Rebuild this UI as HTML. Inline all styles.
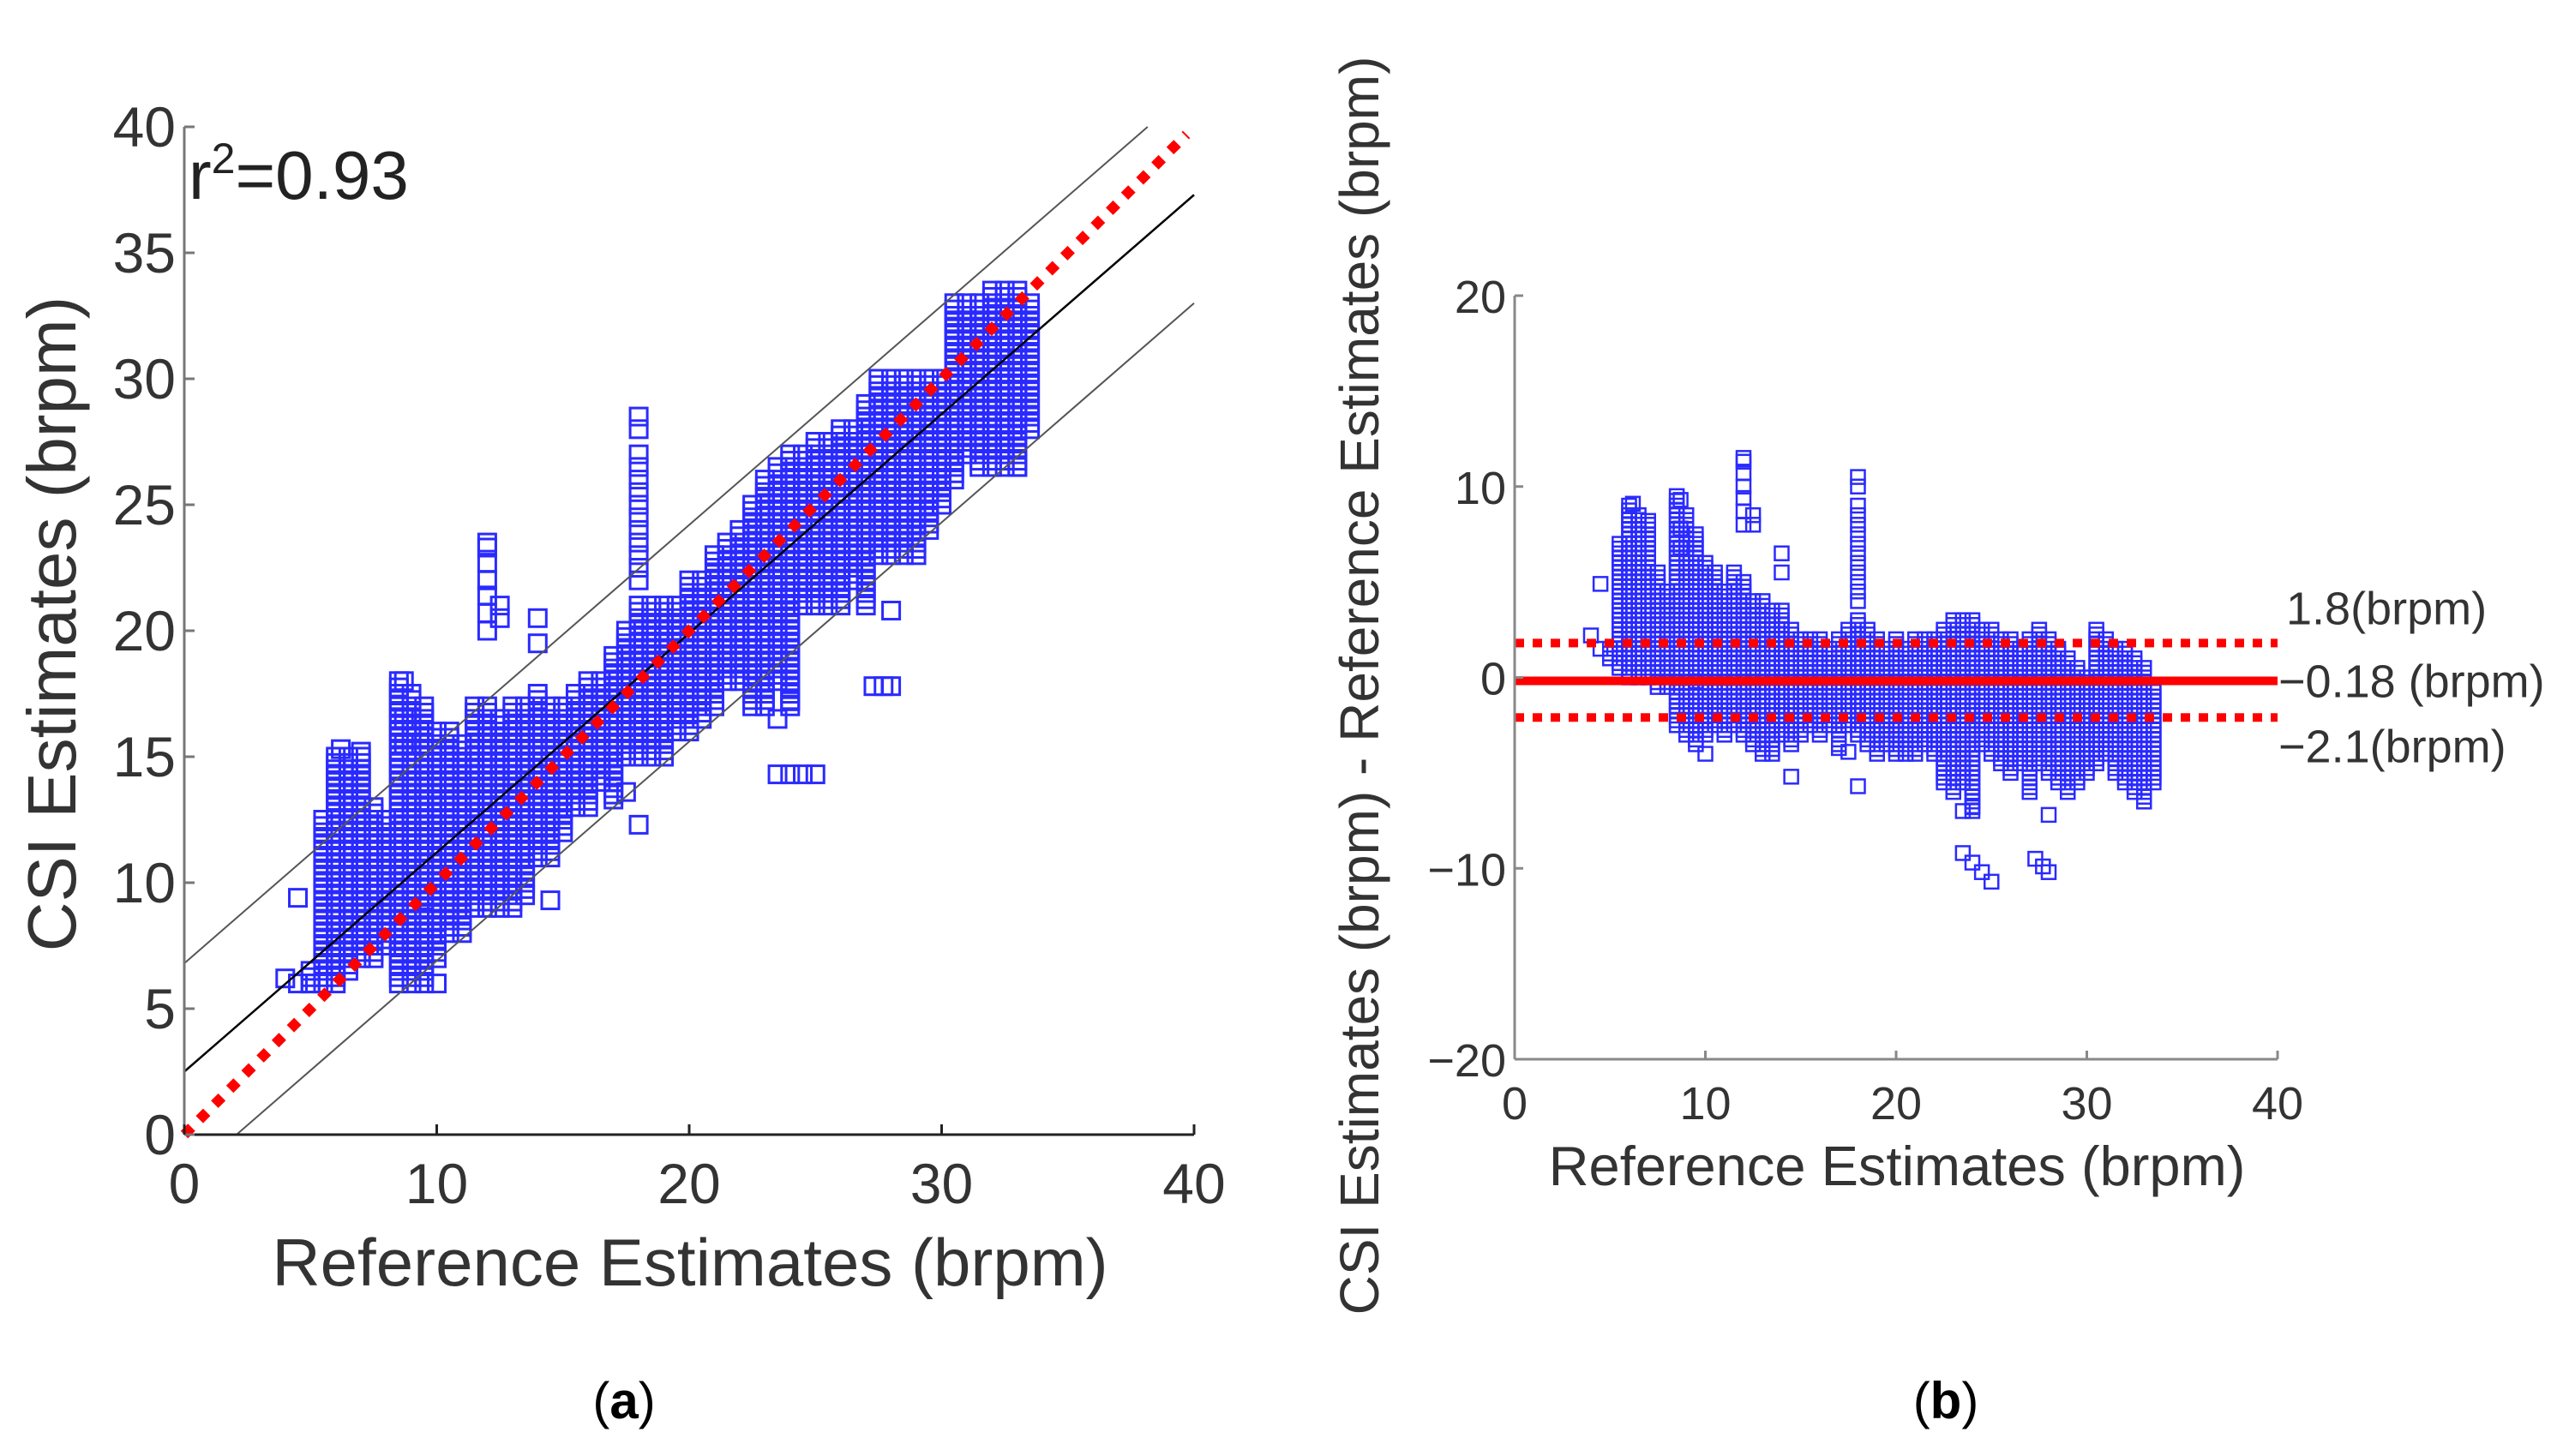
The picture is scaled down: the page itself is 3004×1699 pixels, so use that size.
<!DOCTYPE html>
<html><head><meta charset="utf-8"><style>
html,body{margin:0;padding:0;background:#fff;}
svg{display:block;}
text{font-family:"Liberation Sans",sans-serif;}
</style></head><body>
<svg id="fig" width="3004" height="1699" viewBox="0 0 3004 1699" xmlns="http://www.w3.org/2000/svg">
<g id="pa"></g>
<g id="pb"></g>
<text x="728" y="1655" font-family="Liberation Serif" font-size="60" text-anchor="middle" fill="#000">(<tspan font-weight="bold">a</tspan>)</text>
<text x="2270" y="1655" font-family="Liberation Serif" font-size="60" text-anchor="middle" fill="#000">(<tspan font-weight="bold">b</tspan>)</text>
</svg>
<script>
// Column data: reference x, CSI low, CSI high (points stacked within)
const colX  = [5,5.5,6,6.5,7,7.5,8,8.5,9,9.5,10,10.5,11,11.5,12,12.5,13,13.5,14,14.5,15,15.5,16,16.5,17,17.5,18,18.5,19,19.5,20,20.5,21,21.5,22,22.5,23,23.5,24,24.5,25,25.5,26,26.5,27,27.5,28,28.5,29,29.5,30,30.5,31,31.5,32,32.5,33,33.5];
const colLo = [6,6,6,6.5,7,7,7.5,6,6,6,7,8,8,9,9,9,9,9.5,11,11,12,13,13,14,13.5,15,15,15,15,16,16,16.5,17,18,18,17,17,18,17,21,21,21,21,22,21,23,23,23,23,24,25,26,27,26.5,26.5,26.5,26.5,28];
const colHi = [6.5,12.5,15,15,15,13,12.5,18,17.5,17,16,16,15.5,17,17,16.5,17,17,17.5,17,17,17.5,18,18,19,20,21,21,21,21,22,22,23,23.5,24,25,26,26.5,27,27,27.5,27.5,28,28,29,30,30,30,30,30,30,33,33,33,33.5,33.5,33.5,33];
// Outlier points: reference x, CSI y
const outX = [12,12,12,12,12,12,12,12.5,12.5,14,14,18,18,18,18,18,18,18,18,18,18,18,18,18,8.7,8.7,8.7,23.5,24,24.5,25,27.3,27.7,28,18,10,4.5,5,9.5,4,4.5,6.2,7,14.5,17,17.5,23.5,24,28,33];
const outY = [20,20.7,21.4,22,22.7,23.3,23.5,20.5,21,19.5,20.5,22,22.5,23,23.5,24,24.5,25,25.5,26,26.5,27,28,28.5,15.5,16.5,18,14.3,14.3,14.3,14.3,17.8,17.8,17.8,12.3,6,6,6,9.3,6.2,9.4,15.3,15.2,9.3,13.3,13.6,16.5,17.2,20.8,26.5];
const meanDiff = -0.18, upperLoA = 1.8, lowerLoA = -2.1;
const ticksA = [0,5,10,15,20,25,30,35,40];
const ticksAx = [0,10,20,30,40];
const ticksBy = [-20,-10,0,10,20];
const ticksBx = [0,10,20,30,40];

const NS="http://www.w3.org/2000/svg";
function mk(parent,tag,attrs){const e=document.createElementNS(NS,tag);for(const k in attrs)e.setAttribute(k,attrs[k]);parent.appendChild(e);return e;}
function points(){const P=[];for(let i=0;i<colX.length;i++){for(let y=colLo[i];y<=colHi[i]+1e-9;y+=0.25)P.push([colX[i],y]);}for(let i=0;i<outX.length;i++)P.push([outX[i],outY[i]]);return P;}
const P=points();

// ---- Plot A ----
const ga=document.getElementById('pa');
const ax=v=>215+v*(1178/40), ay=v=>1324-v*(1176/40);
const marks=mk(ga,'g',{});


P.forEach(p=>{const r=mk(marks,'rect',{x:ax(p[0])-10,y:ay(p[1])-10,width:20,height:20,fill:'none',stroke:'#2a2aff','stroke-width':3});});
const reg=(x)=>2.5+0.87*x;
let l=mk(ga,'line',{x1:ax(0),y1:ay(reg(0)),x2:ax(40),y2:ay(reg(40)),stroke:'#000','stroke-width':2.5});

l=mk(ga,'line',{x1:ax(0),y1:ay(reg(0)+4.3),x2:ax((40-6.8)/0.87),y2:ay(40),stroke:'#555','stroke-width':2});

l=mk(ga,'line',{x1:ax((0-2.5+4.3)/0.87),y1:ay(0),x2:ax(40),y2:ay(reg(40)-4.3),stroke:'#555','stroke-width':2});

l=mk(ga,'line',{x1:ax(0),y1:ay(0),x2:ax(39.7),y2:ay(39.7),stroke:'#ff0000','stroke-width':12,'stroke-dasharray':'12 13'});

l=mk(ga,'line',{x1:ax(0),y1:ay(0),x2:ax(40),y2:ay(0),stroke:'#222','stroke-width':3});

l=mk(ga,'line',{x1:ax(0),y1:ay(0),x2:ax(0),y2:ay(40),stroke:'#777','stroke-width':3});

ticksA.forEach(v=>{const t=mk(ga,'line',{x1:ax(0),y1:ay(v),x2:ax(0)+12,y2:ay(v),stroke:'#777','stroke-width':3});
 const tx=mk(ga,'text',{x:ax(0)-10,y:ay(v)+23,'font-size':66,'text-anchor':'end',fill:'#333'});tx.textContent=v;});
ticksAx.forEach(v=>{const t=mk(ga,'line',{x1:ax(v),y1:ay(0),x2:ax(v),y2:ay(0)-12,stroke:'#222','stroke-width':3});
 const tx=mk(ga,'text',{x:ax(v),y:ay(0)+80,'font-size':66,'text-anchor':'middle',fill:'#333'});tx.textContent=v;});
let t=mk(ga,'text',{x:805,y:1500,'font-size':78,'text-anchor':'middle',fill:'#333'});t.textContent='Reference Estimates (brpm)';

t=mk(ga,'text',{x:0,y:0,'font-size':80,'text-anchor':'middle',fill:'#333',transform:'translate(88,728) rotate(-90)'});t.textContent='CSI Estimates (brpm)';

t=mk(ga,'text',{x:220,y:232,'font-size':80,fill:'#222'});t.innerHTML='r<tspan dy="-30" font-size="50">2</tspan><tspan dy="30">=0.93</tspan>';


// ---- Plot B ----
const gb=document.getElementById('pb');
const bx=v=>1767+v*(890/40), by=v=>790.5-v*(891/40);
const mb=mk(gb,'g',{});


P.forEach(p=>{const r=mk(mb,'rect',{x:bx(p[0])-8,y:by(p[1]-p[0])-8,width:16,height:16,fill:'none',stroke:'#2a2aff','stroke-width':2.5});});
l=mk(gb,'line',{x1:bx(0),y1:by(meanDiff),x2:bx(40),y2:by(meanDiff),stroke:'#ff0000','stroke-width':10});

[upperLoA,lowerLoA].forEach((v,i)=>{const q=mk(gb,'line',{x1:bx(0),y1:by(v),x2:bx(40),y2:by(v),stroke:'#ff0000','stroke-width':10,'stroke-dasharray':'11 10'});});
l=mk(gb,'line',{x1:bx(0),y1:by(-20),x2:bx(40),y2:by(-20),stroke:'#888','stroke-width':3});

l=mk(gb,'line',{x1:bx(0),y1:by(-20),x2:bx(0),y2:by(20),stroke:'#888','stroke-width':3});

ticksBy.forEach(v=>{const q=mk(gb,'line',{x1:bx(0),y1:by(v),x2:bx(0)+10,y2:by(v),stroke:'#888','stroke-width':3});
 const tx=mk(gb,'text',{x:bx(0)-10,y:by(v)+20,'font-size':54,'text-anchor':'end',fill:'#333'});tx.textContent=v<0?'\u2212'+(-v):v;});
ticksBx.forEach(v=>{const q=mk(gb,'line',{x1:bx(v),y1:by(-20),x2:bx(v),y2:by(-20)-10,stroke:'#888','stroke-width':3});
 const tx=mk(gb,'text',{x:bx(v),y:by(-20)+70,'font-size':54,'text-anchor':'middle',fill:'#333'});tx.textContent=v;});
t=mk(gb,'text',{x:2213,y:1383,'font-size':65,'text-anchor':'middle',fill:'#333'});t.textContent='Reference Estimates (brpm)';

t=mk(gb,'text',{x:0,y:0,'font-size':64,'text-anchor':'middle',fill:'#333',transform:'translate(1608,800) rotate(-90)'});t.textContent='CSI Estimates (brpm) - Reference Estimates (brpm)';

[[upperLoA,'1.8(brpm)',-22,2667],[meanDiff,'\u22120.18 (brpm)',19,2658],[lowerLoA,'\u22122.1(brpm)',52,2658]].forEach((a,i)=>{const tx=mk(gb,'text',{x:a[3],y:by(a[0])+a[2],'font-size':54,fill:'#333'});tx.textContent=a[1];});
</script>
</body></html>
